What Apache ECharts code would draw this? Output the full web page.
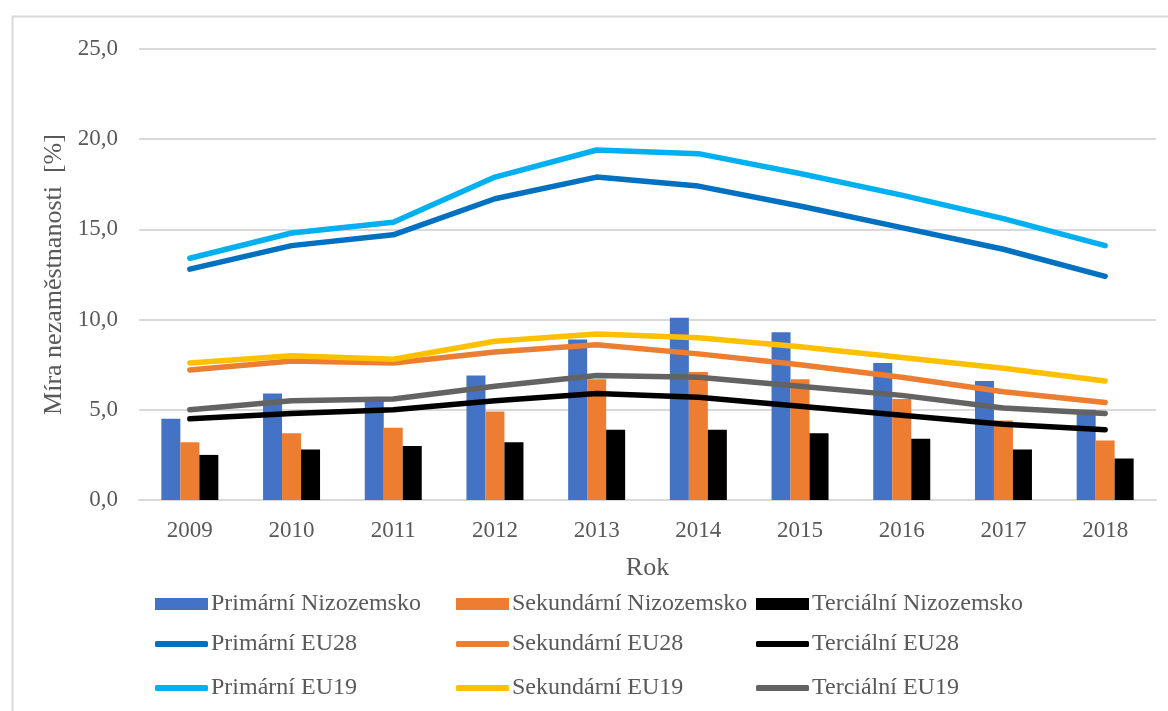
<!DOCTYPE html>
<html>
<head>
<meta charset="utf-8">
<script src="https://cdn.jsdelivr.net/npm/echarts@6/dist/echarts.min.js"></script>
<style>
html,body{margin:0;padding:0;background:#fff;}
#chart{width:1168px;height:711px;}
</style>
</head>
<body>
<div id="chart"></div>
<script>
const years = ['2009','2010','2011','2012','2013','2014','2015','2016','2017','2018'];
const yTicks = [0, 5, 10, 15, 20, 25];

const primNL   = [4.5, 5.9, 5.5, 6.9, 8.9, 10.1, 9.3, 7.6, 6.6, 5.0];
const sekNL    = [3.2, 3.7, 4.0, 4.9, 6.7, 7.1, 6.7, 5.6, 4.4, 3.3];
const terNL    = [2.5, 2.8, 3.0, 3.2, 3.9, 3.9, 3.7, 3.4, 2.8, 2.3];
const primEU28 = [12.8, 14.1, 14.7, 16.7, 17.9, 17.4, 16.3, 15.1, 13.9, 12.4];
const sekEU28  = [7.2, 7.7, 7.6, 8.2, 8.6, 8.1, 7.5, 6.8, 6.0, 5.4];
const terEU28  = [4.5, 4.8, 5.0, 5.5, 5.9, 5.7, 5.2, 4.7, 4.2, 3.9];
const primEU19 = [13.4, 14.8, 15.4, 17.9, 19.4, 19.2, 18.1, 16.9, 15.6, 14.1];
const sekEU19  = [7.6, 8.0, 7.8, 8.8, 9.2, 9.0, 8.5, 7.9, 7.3, 6.6];
const terEU19  = [5.0, 5.5, 5.6, 6.3, 6.9, 6.8, 6.3, 5.8, 5.1, 4.8];

const FONT = '"Liberation Serif", "Times New Roman", serif';
const TXT = '#595959';

const chart = echarts.init(document.getElementById('chart'));

function bar(name, data, color) {
  return { name, type: 'bar', data, barWidth: 19, barGap: '0%',
    itemStyle: { color }, emphasis: { disabled: true } };
}
function line(name, data, color) {
  return { name, type: 'line', data, symbol: 'none',
    lineStyle: { color, width: 5.5, cap: 'round', join: 'round' },
    itemStyle: { color }, emphasis: { disabled: true } };
}

const legendPos = [
  ['Primární Nizozemsko', 155, 592, 'bar'],
  ['Sekundární Nizozemsko', 456, 592, 'bar'],
  ['Terciální Nizozemsko', 756, 592, 'bar'],
  ['Primární EU28', 155, 632, 'line'],
  ['Sekundární EU28', 456, 632, 'line'],
  ['Terciální EU28', 756, 632, 'line'],
  ['Primární EU19', 155, 676, 'line'],
  ['Sekundární EU19', 456, 676, 'line'],
  ['Terciální EU19', 756, 676, 'line']
];

const option = {
  animation: false,
  backgroundColor: '#fff',
  graphic: [{
    type: 'rect', left: 10, top: 14,
    shape: { width: 1200, height: 720 },
    style: { fill: 'none', stroke: '#d9d9d9', lineWidth: 2 }, silent: true, z: -1
  }],
  grid: { left: 139, right: 12, top: 49, bottom: 211 },
  legend: legendPos.map(([n, x, y, kind]) => ({
    data: [{ name: n, icon: kind === 'bar' ? 'rect' : 'roundRect' }],
    left: x, top: y, padding: 0,
    itemWidth: 53, itemHeight: kind === 'bar' ? 12 : 6,
    itemGap: 0, selectedMode: false,
    textStyle: { fontFamily: FONT, fontSize: 24, color: TXT, padding: [0, 0, 0, -2], height: 24, lineHeight: 24 }
  })),
  xAxis: {
    type: 'category', data: years,
    name: 'Rok', nameLocation: 'middle', nameGap: 55,
    nameTextStyle: { fontFamily: FONT, fontSize: 26, color: TXT },
    axisLine: { lineStyle: { color: '#d9d9d9', width: 2 } },
    axisTick: { show: false },
    axisLabel: { fontFamily: FONT, fontSize: 23, color: TXT, margin: 19 }
  },
  yAxis: {
    type: 'value', min: yTicks[0], max: yTicks[yTicks.length - 1], interval: 5,
    name: 'Míra nezaměstnanosti  [%]', nameLocation: 'middle', nameGap: 70,
    nameTextStyle: { fontFamily: FONT, fontSize: 26, color: TXT },
    axisLine: { show: false }, axisTick: { show: false },
    splitLine: { lineStyle: { color: '#d9d9d9', width: 2 } },
    axisLabel: { fontFamily: FONT, fontSize: 23, color: TXT, margin: 21,
      formatter: v => v.toFixed(1).replace('.', ',') }
  },
  series: [
    bar('Primární Nizozemsko', primNL, '#4472C4'),
    bar('Sekundární Nizozemsko', sekNL, '#ED7D31'),
    bar('Terciální Nizozemsko', terNL, '#000000'),
    line('Primární EU28', primEU28, '#0070C0'),
    line('Sekundární EU28', sekEU28, '#ED7D31'),
    line('Terciální EU28', terEU28, '#000000'),
    line('Primární EU19', primEU19, '#00B0F0'),
    line('Sekundární EU19', sekEU19, '#FFC000'),
    line('Terciální EU19', terEU19, '#636363')
  ]
};
chart.setOption(option);
</script>
</body>
</html>
